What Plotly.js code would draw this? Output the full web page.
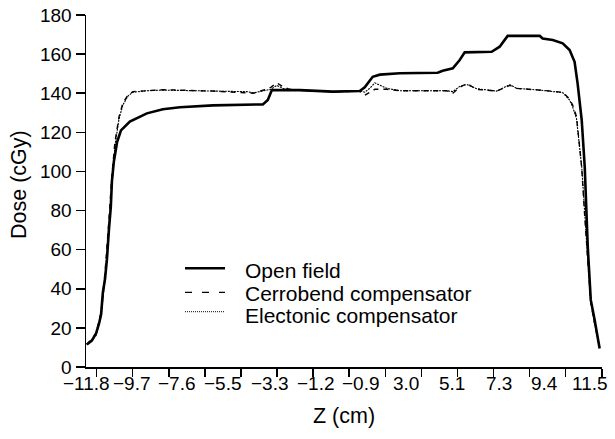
<!DOCTYPE html>
<html>
<head>
<meta charset="utf-8">
<script src="https://cdn.plot.ly/plotly-3.0.1.min.js"></script>
<style>html,body{margin:0;padding:0;background:#fff;}#chart{width:615px;height:439px;}</style>
</head>
<body>
<div id="chart"></div>
<script>
// Data (Z in cm, dose in cGy)
const openZ = [-11.79,-11.56,-11.37,-11.23,-11.13,-11.05,-10.95,-10.86,-10.77,-10.68,-10.63,-10.54,-10.39,-10.21,-9.80,-9.01,-8.27,-7.48,-5.95,-3.64,-3.41,-3.22,-1.93,-0.40,0.85,1.08,1.45,1.78,2.70,4.46,4.69,5.16,5.48,5.71,6.96,7.33,7.70,9.19,9.32,9.79,10.25,10.57,10.80,10.94,11.13,11.27,11.41,11.55,11.73,11.96];
const openDose = [11.5,13.5,17,22,27,38,45,55,70,82,95,105,115,121,125.5,129.7,131.8,132.8,133.8,134.3,136.5,141.6,141.6,140.8,141.1,143,148.4,149.5,150.2,150.5,151.5,152.7,157,160.9,161.2,163.8,169.3,169.3,168,167.2,165.5,162.1,156.1,145,126.3,102.4,61.5,34.3,24,9.5];

const compZ = [-11.79,-11.37,-11.13,-10.95,-10.77,-10.63,-10.49,-10.30,-10.12,-9.89,-9.66,-9.01,-8.27,-5.95,-4.38,-4.07,-3.64,-3.27,-2.99,-2.71,-2.40,-1.93,-0.40,0.85,1.08,1.31,1.55,2.10,2.70,4.88,5.16,5.48,5.81,6.26,7.19,7.80,8.11,9.19,10.25,10.57,10.71,10.89,11.13,11.27,11.41,11.55,11.73,11.96];
const cerroDose = [11.5,17,28,48,75,98,115,128,135,139,140.8,141.3,141.8,141.1,140.5,140,141.5,143,145.3,143.3,142,141.6,140.8,141,139,140.5,142,142,141.3,141.3,140,143,145,142,141.1,144,142.5,141.6,140.5,137,134,128,102,77,55,33,22,10];
const elecDose = [11.5,16,26,45,72,95,113,127,134,138.5,140.5,141.3,141.6,141.1,140.8,140.2,141.2,142,144,142.5,141.8,141.4,140.6,141.2,140.5,142.5,145.3,142.5,141.3,141.3,140.8,143.5,144.5,142.3,141.1,144.4,142.5,141.6,140.3,136.5,133,127,102.4,76.9,55,34,22,10];

const seriesNames = ["Open field", "Cerrobend compensator", "Electonic compensator"];
const tickLabelVals = [-11.8,-9.7,-7.6,-5.5,-3.3,-1.2,0.9,3.0,5.1,7.3,9.4,11.5];
const tickLabelText = ["\u221211.8","\u22129.7","\u22127.6","\u22125.5","\u22123.3","\u22121.2","\u22120.9","3.0","5.1","7.3","9.4","11.5"];
const xTitle = "Z (cm)";
const yTitle = "Dose (cGy)";

const FONT = "Liberation Sans, Arial, Helvetica, sans-serif";
const xr = [-11.83, 12.07];

const styles = [
  {color: "#000", width: 2.6},
  {color: "#000", width: 1.4, dash: "5px,5px"},
  {color: "#000", width: 1.1, dash: "2px,1px"}
];
const legendStyles = [
  {color: "#000", width: 2.6},
  {color: "#000", width: 1.3, dash: "7px,10px"},
  {color: "#000", width: 1.0, dash: "1px,1px"}
];

const traces = [
  {x: openZ, y: openDose, name: seriesNames[0], mode: "lines", line: styles[0]},
  {x: compZ, y: cerroDose, name: seriesNames[1], mode: "lines", line: styles[1]},
  {x: compZ, y: elecDose, name: seriesNames[2], mode: "lines", line: styles[2]},
];

// legend drawn as layout shapes + annotations (paper coords)
const legLineY = [0.2804, 0.2122, 0.1571];
const legTextY = [0.2741, 0.2102, 0.1477];
const shapes = seriesNames.map((n, i) => ({
  type: "line", xref: "paper", yref: "paper", x0: 0.1919, x1: 0.2694, y0: legLineY[i], y1: legLineY[i],
  line: legendStyles[i]
}));
const annotations = seriesNames.map((n, i) => ({
  text: n, xref: "paper", yref: "paper", x: 0.3043, y: legTextY[i], xanchor: "left", yanchor: "middle",
  showarrow: false, font: {family: FONT, size: 21, color: "#000"}
}));
tickLabelVals.forEach((v, i) => annotations.push({
  text: tickLabelText[i], xref: "x", yref: "paper", x: v, y: -0.0455, xanchor: "center", yanchor: "middle",
  showarrow: false, font: {family: FONT, size: 19, color: "#000"}
}));
annotations.push({text: xTitle, xref: "paper", yref: "paper", x: 0.5, y: -0.1392, xanchor: "center", yanchor: "middle",
  showarrow: false, font: {family: FONT, size: 21.5, color: "#000"}});
annotations.push({text: yTitle, xref: "paper", yref: "paper", x: -0.1298, y: 0.517, xanchor: "center", yanchor: "middle",
  textangle: -90, showarrow: false, font: {family: FONT, size: 21.5, color: "#000"}});

const layout = {
  width: 615, height: 439,
  margin: {l: 86, r: 13, t: 15, b: 72},
  paper_bgcolor: "#fff", plot_bgcolor: "#fff",
  font: {family: FONT, color: "#000", size: 19},
  showlegend: false,
  shapes: shapes,
  annotations: annotations,
  xaxis: {
    range: xr, showgrid: false, zeroline: false, showline: true, linecolor: "#000", linewidth: 1.5,
    ticks: "outside", ticklen: 8, tickwidth: 1.5, tickcolor: "#000",
    tickmode: "linear", tick0: -11.338, dtick: 1.6713, showticklabels: false
  },
  yaxis: {
    range: [0, 180], showgrid: false, zeroline: false, showline: true, linecolor: "#000", linewidth: 1.5,
    ticks: "outside", ticklen: 9, tickwidth: 1.5, tickcolor: "#000", tickmode: "linear", tick0: 0, dtick: 20,
    tickfont: {family: FONT, size: 19}
  }
};

Plotly.newPlot("chart", traces, layout, {staticPlot: true, displayModeBar: false});
</script>
</body>
</html>
